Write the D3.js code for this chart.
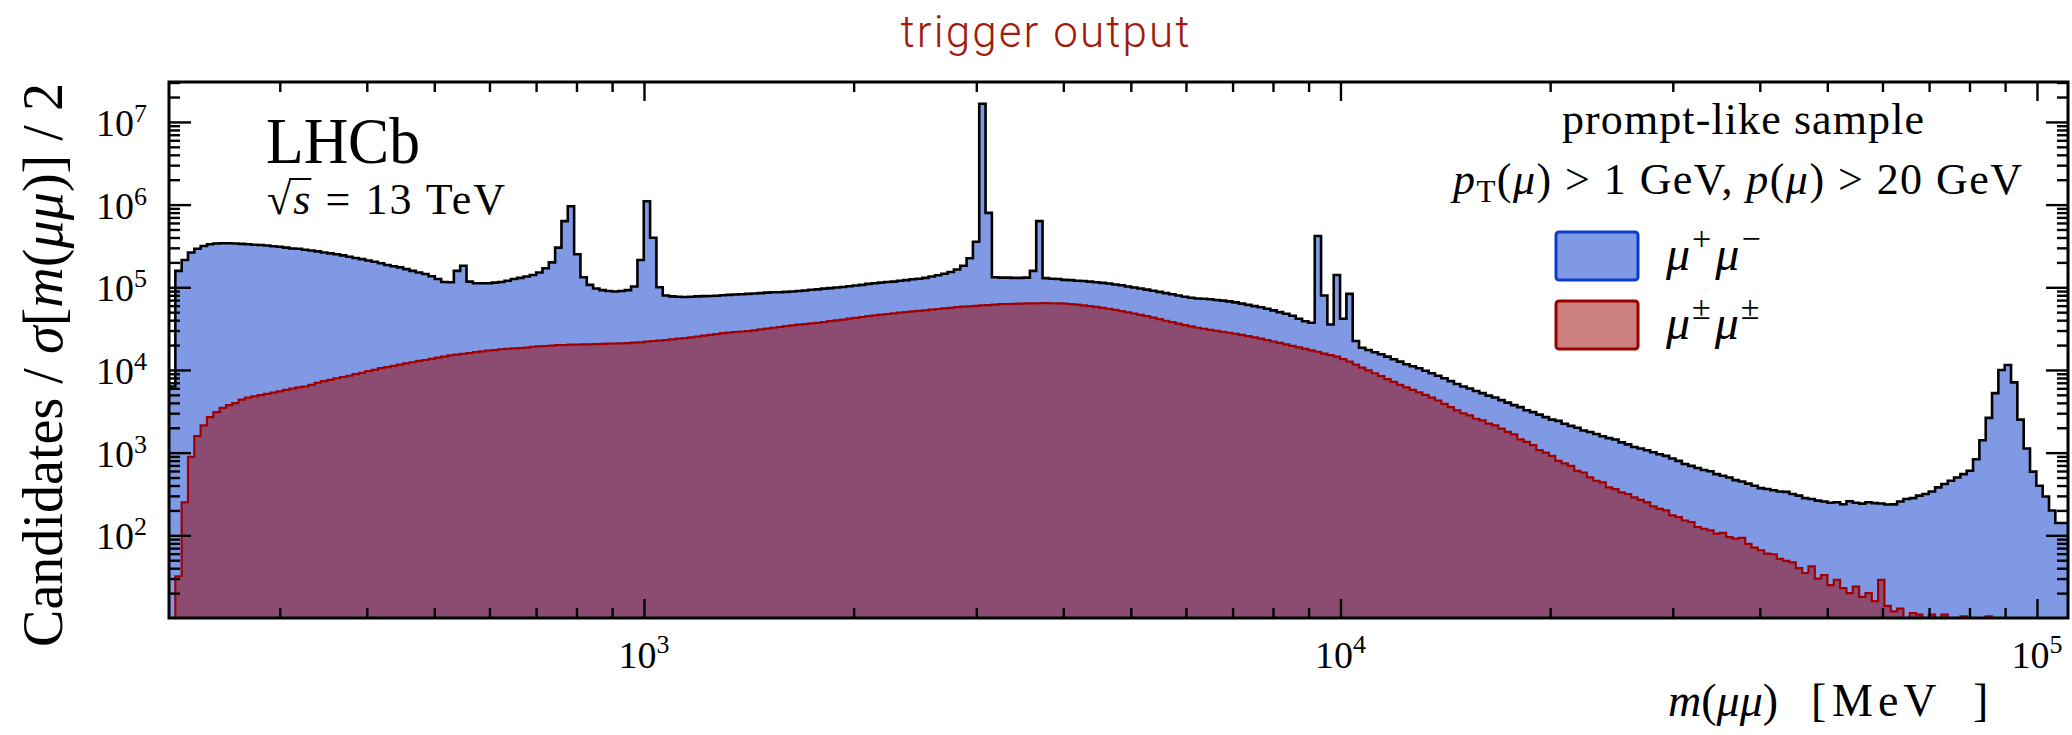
<!DOCTYPE html>
<html><head><meta charset="utf-8">
<script src="https://cdn.jsdelivr.net/npm/d3@7"></script>
<style>body{margin:0;background:#fff} svg{display:block} text{white-space:pre}</style>
</head><body>
<svg id="chart" width="2072" height="735"></svg>
<script>
// ---------- data ----------
const massRange = [208, 110800];          // MeV, histogram range
const nBins = 300;                          // log-uniform bins
const yRange = [10, 3.04e7];
const xMajorTicks = [1e3, 1e4, 1e5];
const xTickExponents = ["3", "4", "5"];
const yMajorTicks = [1e2, 1e3, 1e4, 1e5, 1e6, 1e7];
const yTickExponents = ["2", "3", "4", "5", "6", "7"];

// mu+ mu- candidates per bin
const oppositeSign = [
 6300,158000,214000,263000,292000,316000,331000,339000,341000,341000,
 339000,335000,331000,327000,324000,320000,313000,309000,302000,295000,
 292000,285000,279000,272000,263000,257000,251000,243000,234000,226000,
 219000,211000,204000,195000,186000,180000,174000,166000,158000,151000,
 145000,136000,126000,116000,115000,158000,182000,117000,112000,112000,
 112000,114000,116000,120000,126000,130000,135000,141000,151000,170000,
 200000,302000,631000,955000,251000,132000,107000,96600,92300,90200,
 89100,90200,92300,102000,214000,1100000,398000,100000,79400,77600,
 76700,76400,76700,77600,78200,78500,79100,80000,80900,81700,
 82400,83200,84100,85100,86100,87100,87100,88100,89100,90200,
 91600,93300,94400,96200,97700,99500,101000,103000,105000,107000,
 110000,112000,114000,116000,117000,120000,122000,125000,127000,130000,
 135000,140000,146000,153000,164000,182000,224000,355000,16600000,794000,
 132000,131000,131000,130000,130000,131000,158000,631000,129000,127000,
 126000,123000,122000,120000,119000,117000,115000,113000,111000,108000,
 106000,102000,99500,96600,93800,90800,88100,85100,82200,79400,
 76900,74600,73300,72800,71600,70300,68900,67600,65600,63500,
 61200,59200,57300,55000,52500,50100,47900,45200,41700,38900,
 37200,417000,79400,35500,141000,41700,83200,22400,18600,17400,
 16400,15500,14500,13500,12600,11700,11100,10500,9770,9120,
 8510,7940,7330,6760,6310,5960,5560,5250,4900,4650,
 4320,4030,3760,3550,3250,3090,2880,2690,2510,2420,
 2240,2110,2000,1850,1780,1680,1580,1500,1440,1330,
 1260,1170,1120,1070,1010,955,915,851,794,730,
 692,653,617,595,550,525,501,465,447,422,
 398,372,363,351,339,335,316,302,282,275,
 263,256,248,251,238,258,248,242,251,245,
 243,236,237,257,275,282,302,316,339,380,
 417,457,501,550,603,832,1410,2630,5250,10000,
 11500,7080,2510,1120,589,398,295,200,141,141];

// mu± mu± candidates per bin
const sameSign = [
 0,32,251,891,1580,2140,2690,3090,3470,3760,
 3980,4370,4620,4790,4950,5130,5310,5500,5750,5960,
 6170,6310,6610,7000,7330,7590,7940,8220,8510,8910,
 9230,9660,10000,10500,10800,11200,11600,12000,12400,12900,
 13200,13600,14100,14500,15000,15300,15700,16000,16400,16800,
 17200,17400,17800,18000,18200,18400,18600,19100,19300,19500,
 19700,19950,20000,20200,20200,20400,20400,20500,20700,20800,
 20900,21000,21100,21400,21600,22000,22400,22600,23000,23400,
 24000,24300,24800,25400,26000,26600,27200,27900,28300,28800,
 29200,29500,30200,30900,31600,32400,33100,33900,34700,35300,
 35900,36500,37200,38000,38900,39800,40700,41700,42700,43700,
 44700,45700,46600,47500,48400,49300,50100,51000,51900,52700,
 53700,54600,55600,56500,57500,58200,58900,59600,60300,61000,
 61700,62400,62800,63100,63500,63800,64000,64100,64300,64100,
 63800,63400,62700,61700,60500,59300,57900,56500,55000,53300,
 51600,49900,48200,46500,44700,42900,41100,39400,37800,36300,
 34900,33600,32400,31500,30600,29800,29000,28200,27400,26500,
 25700,24800,24000,23000,22100,21300,20400,19600,18800,18000,
 17300,16600,15800,15100,14500,13500,12600,11600,10700,9890,
 9120,8410,7760,7160,6610,6170,5750,5370,5010,4620,
 4270,3890,3550,3240,2990,2820,2570,2450,2240,2140,
 1950,1780,1660,1450,1350,1230,1070,1000,912,794,
 741,692,603,575,501,457,437,380,363,331,
 316,288,269,251,224,209,200,174,166,151,
 145,126,120,115,105,107,95,91,93,79,
 71,66,60,59,52,49,47,40,35,42,
 30,33,25,29,23,20,24,18,20,16,
 29,14,12,13,0,11.5,11,0,11,0,
 11,0,0,10.5,0,0,0,10.5,0,0,
 0,0,0,0,0,0,0,0,0,0];

// ---------- layout ----------
const plot = {left:169, right:2068, top:82, bottom:618};
const svg = d3.select('#chart');
svg.append('rect').attr('width',2072).attr('height',735).attr('fill','#fff');

const x = d3.scaleLog().domain(massRange).range([plot.left, plot.right]);
const y = d3.scaleLog().domain(yRange).range([plot.bottom, plot.top]).clamp(true);

const edges = d3.range(nBins + 1).map(k => massRange[0] * Math.pow(massRange[1] / massRange[0], k / nBins));

function stepPoints(vals){
  const pts = [];
  vals.forEach((v, i) => {
    const vv = v > 0 ? v : yRange[0] * 0.5;
    pts.push([edges[i], vv]); pts.push([edges[i+1], vv]);
  });
  return pts;
}

svg.append('clipPath').attr('id','clip').append('rect')
  .attr('x',plot.left).attr('y',plot.top).attr('width',plot.right-plot.left).attr('height',plot.bottom-plot.top);

const gPlot = svg.append('g').attr('clip-path','url(#clip)');
const area = d3.area().x(d => x(d[0])).y0(plot.bottom).y1(d => y(d[1]));
const line = d3.line().x(d => x(d[0])).y(d => y(d[1]));

const osPts = stepPoints(oppositeSign);
const ssPts = stepPoints(sameSign);

gPlot.append('path').attr('d', area(osPts)).attr('fill','rgba(0,51,204,0.5)');
gPlot.append('path').attr('d', area(ssPts)).attr('fill','rgba(153,0,0,0.5)');
gPlot.append('path').attr('d', line(osPts)).attr('fill','none').attr('stroke','#000').attr('stroke-width',2.6).attr('stroke-linejoin','miter');
gPlot.append('path').attr('d', line(ssPts)).attr('fill','none').attr('stroke','#a00000').attr('stroke-width',2.2);

// ---------- axes ----------
function minorTicks(domain){
  const out = [];
  for (let e = Math.floor(Math.log10(domain[0])); e <= Math.ceil(Math.log10(domain[1])); e++) {
    for (let m = 2; m <= 9; m++) { const v = m * Math.pow(10, e); if (v > domain[0] && v < domain[1]) out.push(v); }
  }
  return out;
}
const xMinor = minorTicks(massRange), yMinor = minorTicks(yRange);

function styleAxis(g){ g.select('.domain').remove(); g.selectAll('line').attr('stroke','#000').attr('stroke-width',2.4); g.selectAll('text').remove(); }

svg.append('g').attr('transform',`translate(0,${plot.bottom})`).call(d3.axisBottom(x).tickValues(xMajorTicks).tickSize(-19)).call(styleAxis);
svg.append('g').attr('transform',`translate(0,${plot.bottom})`).call(d3.axisBottom(x).tickValues(xMinor).tickSize(-10)).call(styleAxis);
svg.append('g').attr('transform',`translate(0,${plot.top})`).call(d3.axisTop(x).tickValues(xMajorTicks).tickSize(-19)).call(styleAxis);
svg.append('g').attr('transform',`translate(0,${plot.top})`).call(d3.axisTop(x).tickValues(xMinor).tickSize(-10)).call(styleAxis);
svg.append('g').attr('transform',`translate(${plot.left},0)`).call(d3.axisLeft(y).tickValues(yMajorTicks).tickSize(-22)).call(styleAxis);
svg.append('g').attr('transform',`translate(${plot.left},0)`).call(d3.axisLeft(y).tickValues(yMinor).tickSize(-11)).call(styleAxis);
svg.append('g').attr('transform',`translate(${plot.right},0)`).call(d3.axisRight(y).tickValues(yMajorTicks).tickSize(-22)).call(styleAxis);
svg.append('g').attr('transform',`translate(${plot.right},0)`).call(d3.axisRight(y).tickValues(yMinor).tickSize(-11)).call(styleAxis);

svg.append('rect').attr('x',plot.left).attr('y',plot.top).attr('width',plot.right-plot.left).attr('height',plot.bottom-plot.top)
  .attr('fill','none').attr('stroke','#000').attr('stroke-width',3);

const serif = "'Liberation Serif','Times New Roman',serif";

// x tick labels
xMajorTicks.forEach((t, i) => {
  const tx = svg.append('text').attr('x', x(t)).attr('y', 668).attr('text-anchor','middle')
    .style('font-family', serif).style('font-size','38px').attr('fill','#000');
  tx.append('tspan').text('10');
  tx.append('tspan').attr('dy', -15).style('font-size','26px').text(xTickExponents[i]);
});
// y tick labels
yMajorTicks.forEach((t, i) => {
  const ty = svg.append('text').attr('x', 147).attr('y', y(t) + 14).attr('text-anchor','end')
    .style('font-family', serif).style('font-size','38px').attr('fill','#000');
  ty.append('tspan').text('10');
  ty.append('tspan').attr('dy', -14).style('font-size','26px').text(yTickExponents[i]);
});

// y axis title
const yt = svg.append('text').attr('transform','translate(62,365) rotate(-90)').attr('text-anchor','middle')
  .style('font-family', serif).style('font-size','56px').attr('textLength',564).attr('lengthAdjust','spacing');
yt.append('tspan').text('Candidates / ');
yt.append('tspan').style('font-style','italic').text('σ');
yt.append('tspan').text('[');
yt.append('tspan').style('font-style','italic').text('m');
yt.append('tspan').text('(');
yt.append('tspan').style('font-style','italic').text('μμ');
yt.append('tspan').text(')] / 2');

// x axis title
const xt = svg.append('text').attr('y', 716).style('font-family', serif).style('font-size','46px');
xt.append('tspan').attr('x',1668).style('font-style','italic').text('m');
xt.append('tspan').text('(');
xt.append('tspan').style('font-style','italic').text('μμ');
xt.append('tspan').text(')');
xt.append('tspan').attr('x',1811).text('[');
xt.append('tspan').attr('x',1832).style('letter-spacing','5px').text('MeV');
xt.append('tspan').attr('x',1973).text(']');

// title
svg.append('text').attr('x',1045).attr('y',47).attr('text-anchor','middle')
  .style('font-family',"Roboto,'Liberation Sans',Arial,sans-serif").style('font-weight',300).style('font-size','44px')
  .attr('textLength',289).attr('lengthAdjust','spacing').attr('fill','#a01b0c').text('trigger output');

// LHCb label
svg.append('text').attr('x',266).attr('y',163).style('font-family',serif).style('font-size','66px')
  .attr('textLength',154).attr('lengthAdjust','spacingAndGlyphs').text('LHCb');
const rs = svg.append('text').attr('x',267).attr('y',214).style('font-family',serif).style('font-size','44px')
  .attr('textLength',238).attr('lengthAdjust','spacing');
rs.append('tspan').text('√');
rs.append('tspan').style('font-style','italic').text('s');
rs.append('tspan').text(' = 13 TeV');
{
  const n = rs.node();
  const x0 = n.getEndPositionOfChar(0).x - 2, x1 = n.getEndPositionOfChar(1).x + 1;
  svg.append('line').attr('x1',x0).attr('x2',x1).attr('y1',214-35).attr('y2',214-35).attr('stroke','#000').attr('stroke-width',2);
}

// legend
svg.append('text').attr('x',1562).attr('y',134).style('font-family',serif).style('font-size','44px')
  .attr('textLength',362).attr('lengthAdjust','spacing').text('prompt-like sample');
const l2 = svg.append('text').attr('x',1453).attr('y',194).style('font-family',serif).style('font-size','44px')
  .attr('textLength',569).attr('lengthAdjust','spacing');
l2.append('tspan').style('font-style','italic').text('p');
l2.append('tspan').attr('dy',8).style('font-size','31px').text('T');
l2.append('tspan').attr('dy',-8).text('(');
l2.append('tspan').style('font-style','italic').text('μ');
l2.append('tspan').text(') > 1 GeV, ');
l2.append('tspan').style('font-style','italic').text('p');
l2.append('tspan').text('(');
l2.append('tspan').style('font-style','italic').text('μ');
l2.append('tspan').text(') > 20 GeV');

const legendItems = [
  {y:232, fill:'rgba(0,51,204,0.5)', stroke:'#0a3ccc', a:'+', b:'−', base:270},
  {y:301, fill:'rgba(153,0,0,0.5)', stroke:'#990000', a:'±', b:'±', base:339}
];
legendItems.forEach(it => {
  svg.append('rect').attr('x',1556).attr('y',it.y).attr('width',82).attr('height',48).attr('rx',3)
    .attr('fill',it.fill).attr('stroke',it.stroke).attr('stroke-width',3);
  const t = svg.append('text').attr('x',1666).attr('y',it.base).style('font-family',serif).style('font-size','48px');
  t.append('tspan').style('font-style','italic').text('μ');
  t.append('tspan').attr('dx',2).attr('dy',-20).style('font-size','34px').text(it.a);
  t.append('tspan').attr('dx',4).attr('dy',20).style('font-style','italic').text('μ');
  t.append('tspan').attr('dx',2).attr('dy',-20).style('font-size','34px').text(it.b);
});
</script>
</body></html>
